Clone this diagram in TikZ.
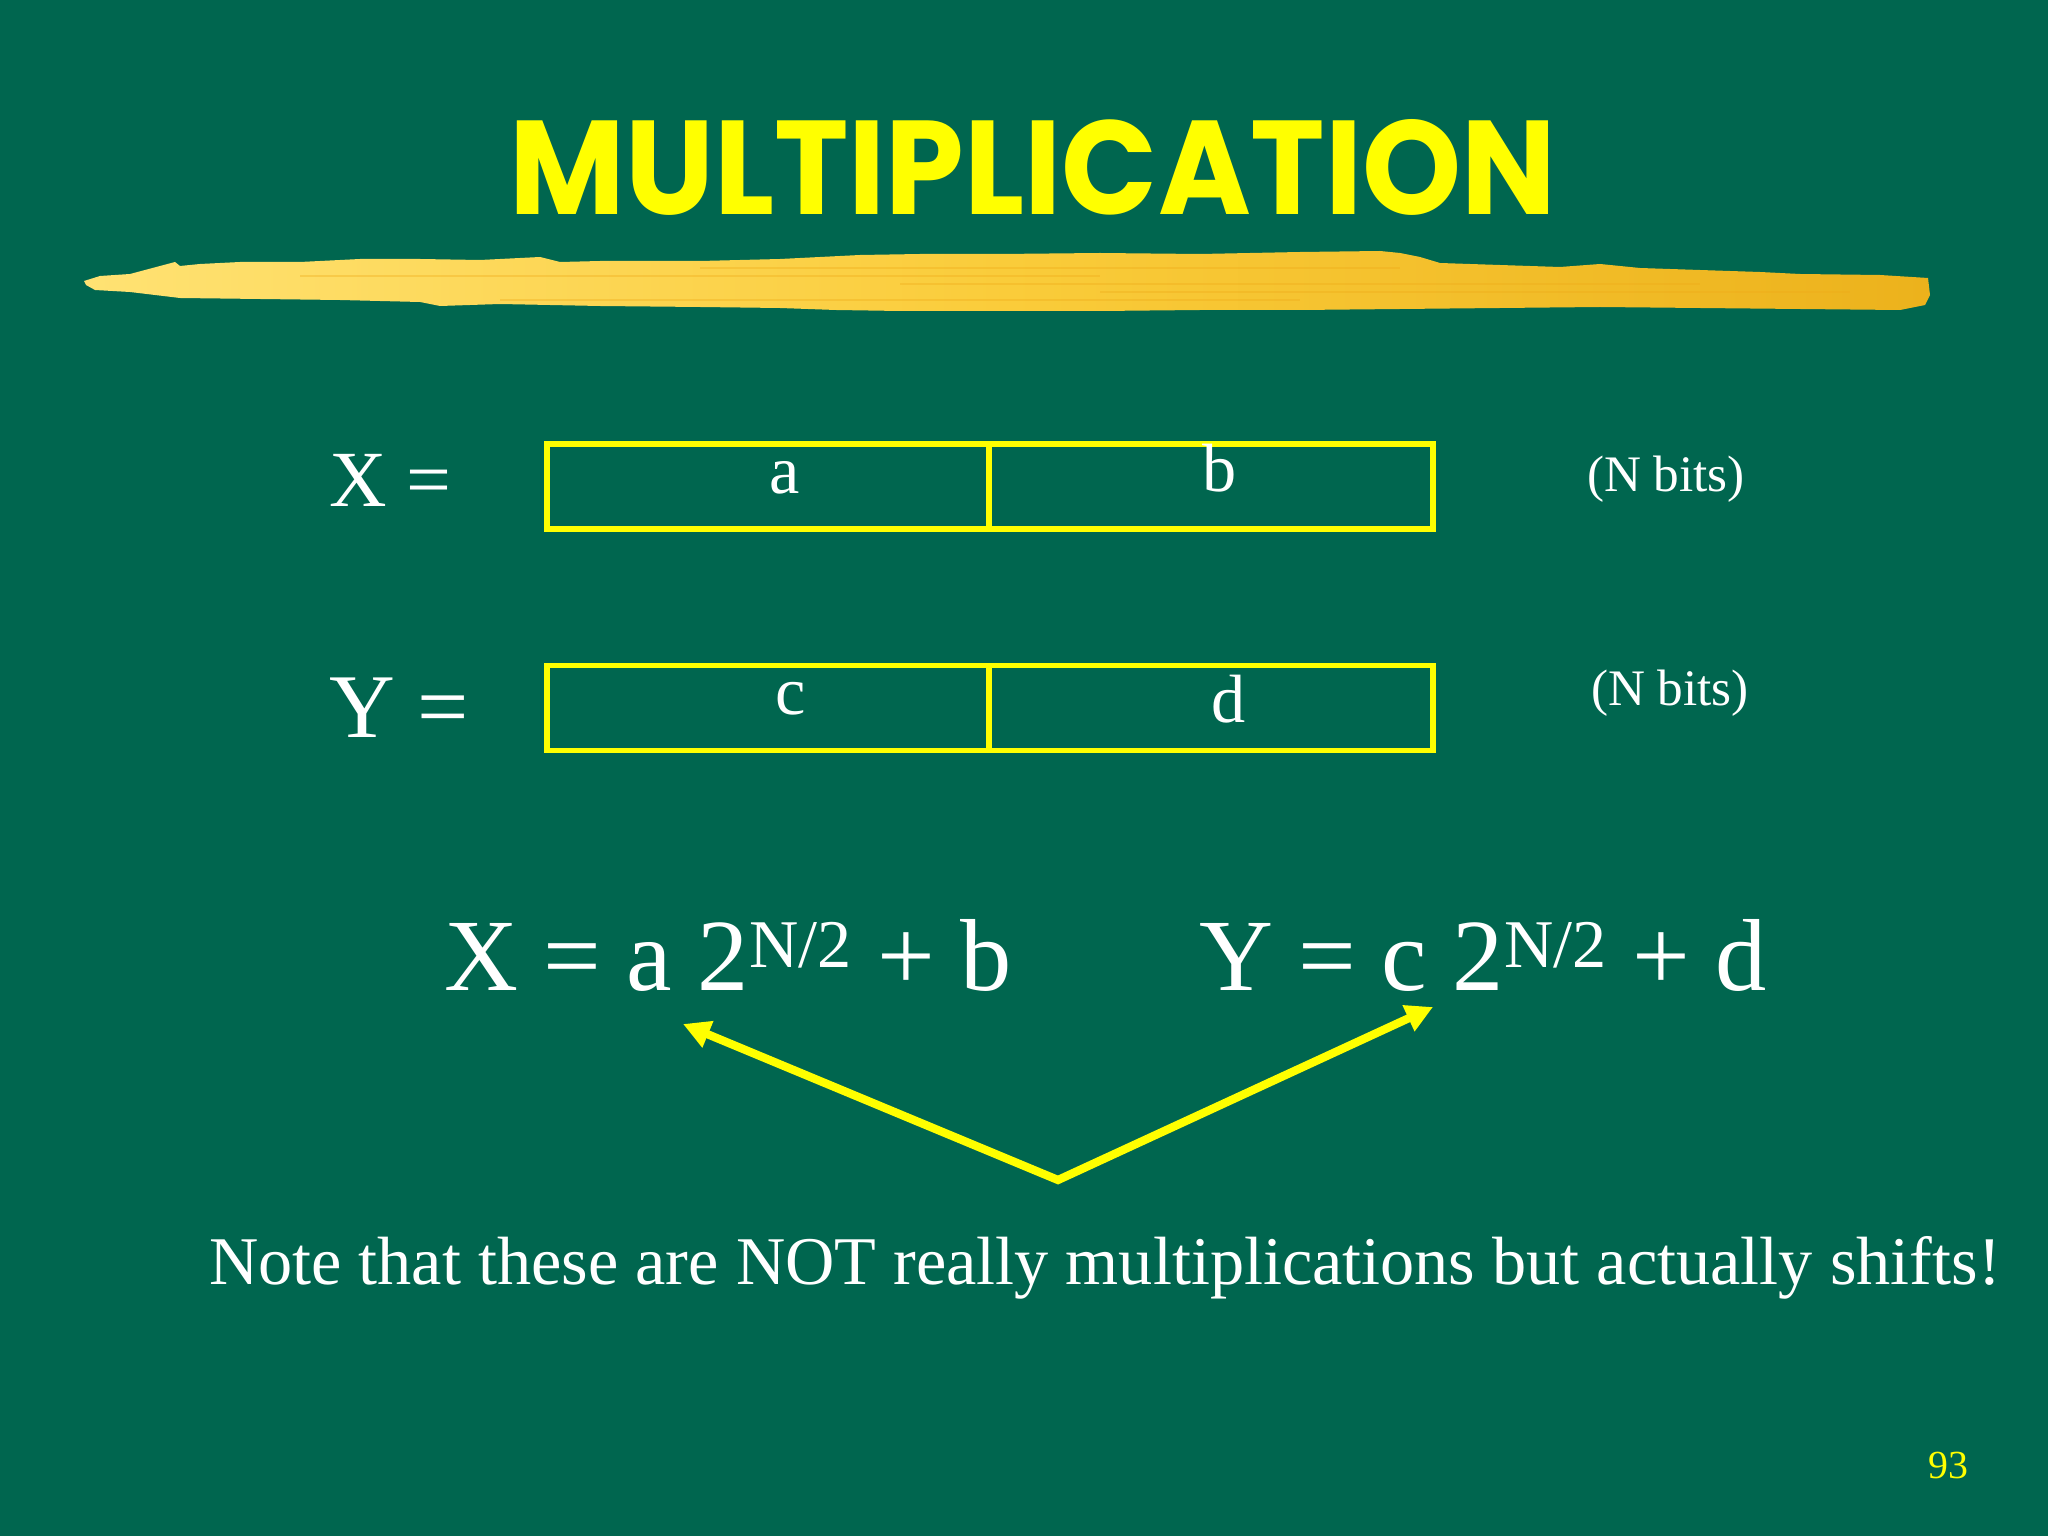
\documentclass[tikz,border=0pt]{standalone}
\usepackage{fontspec}
\setmainfont{Liberation Serif}
\newfontfamily\titlefont{Poppins}
\usetikzlibrary{arrows.meta}
\definecolor{bg}{RGB}{0,102,79}
\definecolor{yel}{RGB}{255,255,0}
\definecolor{goldL}{RGB}{255,226,115}
\definecolor{goldM}{RGB}{250,204,58}
\definecolor{goldD}{RGB}{236,178,28}
\tikzset{
  lbl/.style={text=white, inner sep=0pt, outer sep=0pt},
  field/.style={draw=yel, line width=2pt, inner sep=0pt, minimum height=29.9pt},
  arr/.style={draw=yel, line width=2.9pt, line join=miter,
    {Triangle[length=9.5pt,width=9.5pt]}-{Triangle[length=9.5pt,width=9.5pt]}},
}
\begin{document}
\begin{tikzpicture}[x=0.3515625pt, y=-0.3515625pt]
\fill[bg] (0,0) rectangle (2048,1536);
\useasboundingbox (0,0) rectangle (2048,1536);

% title
\node[text=yel, inner sep=0pt] (title) at (1033,167.5)
  {\resizebox{368pt}{33.4pt}{\titlefont\bfseries MULTIPLICATION}};

% brush stroke
\shade[left color=goldL, right color=goldD, middle color=goldM]
  (84,281) -- (100,276) -- (130,274) -- (160,266) -- (175,262) -- (180,266) -- (200,264) -- (240,262)
  -- (300,262) -- (360,259) -- (420,259) -- (480,260) -- (540,257) -- (560,262) -- (600,261)
  -- (700,261) -- (780,259) -- (860,255) -- (920,254) -- (1000,254) -- (1100,253)
  -- (1200,254) -- (1300,252) -- (1380,251) -- (1400,253) -- (1420,257) -- (1440,263) -- (1500,265)
  -- (1560,267) -- (1600,264) -- (1640,268) -- (1700,270) -- (1760,272) -- (1800,274) -- (1880,275)
  -- (1928,278) -- (1930,295) -- (1925,305) -- (1900,310) -- (1800,309) -- (1700,308)
  -- (1600,307) -- (1500,308) -- (1400,309) -- (1300,310) -- (1200,310) -- (1100,311)
  -- (1000,311) -- (900,311) -- (836,310) -- (780,308) -- (700,307) -- (600,306)
  -- (500,304) -- (440,306) -- (420,302) -- (340,300) -- (260,299) -- (180,298) -- (130,292)
  -- (95,290) -- (86,285) -- cycle;
\foreach \yy/\xa/\xb in {268/700/1400, 276/300/1100, 284/900/1700, 292/1100/1850, 300/500/1300}
  \draw[goldD!85!orange, opacity=0.35, line width=1pt] (\xa,\yy) -- (\xb,\yy);

% X register
\node[lbl, anchor=base west, font=\fontsize{28}{32}\selectfont] (xeq) at (329,507) {X =};
\node[field, minimum width=155.4pt] (fa) at (768,486.5) {};
\node[field, minimum width=156.1pt] (fb) at (1211,486.5) {};
\node[lbl, anchor=base, font=\fontsize{24}{28}\selectfont] (la) at (785,494) {a};
\node[lbl, anchor=base, font=\fontsize{24}{28}\selectfont] (lb) at (1220,492) {b};
\node[lbl, anchor=base west, font=\fontsize{18}{22}\selectfont] (nx) at (1587,492) {(N bits)};

% Y register
\node[lbl, anchor=base west, font=\fontsize{32}{36}\selectfont] (yeq) at (329,737) {Y =};
\node[field, minimum width=155.4pt] (fc) at (768,708) {};
\node[field, minimum width=156.1pt] (fd) at (1211,708) {};
\node[lbl, anchor=base, font=\fontsize{24}{28}\selectfont] (lc) at (791,714) {c};
\node[lbl, anchor=base, font=\fontsize{24}{28}\selectfont] (ld) at (1229,722) {d};
\node[lbl, anchor=base west, font=\fontsize{18}{22}\selectfont] (ny) at (1591,705) {(N bits)};

% equations
\node[lbl, anchor=base west, font=\fontsize{36}{40}\selectfont] (ex) at (444,990)
  {X = a 2\raisebox{8pt}{\fontsize{24}{24}\selectfont N/2} + b};
\node[lbl, anchor=base west, font=\fontsize{36}{40}\selectfont] (ey) at (1199,990)
  {Y = c 2\raisebox{8pt}{\fontsize{24}{24}\selectfont N/2} + d};

% arrows
\coordinate (tl) at (683,1024);
\coordinate (tr) at (1433,1007);
\coordinate (v) at (1058,1180);
\draw[arr] (tl) -- (v) -- (tr);

% note
\node[lbl, anchor=base west, font=\fontsize{24}{28}\selectfont] (note) at (209,1284)
  {Note that these are NOT really multiplications but actually shifts!};

% page number
\node[inner sep=0pt, text=yel, font=\fontsize{14}{16}\selectfont] (pg) at (1948,1466) {93};
\end{tikzpicture}
\end{document}
